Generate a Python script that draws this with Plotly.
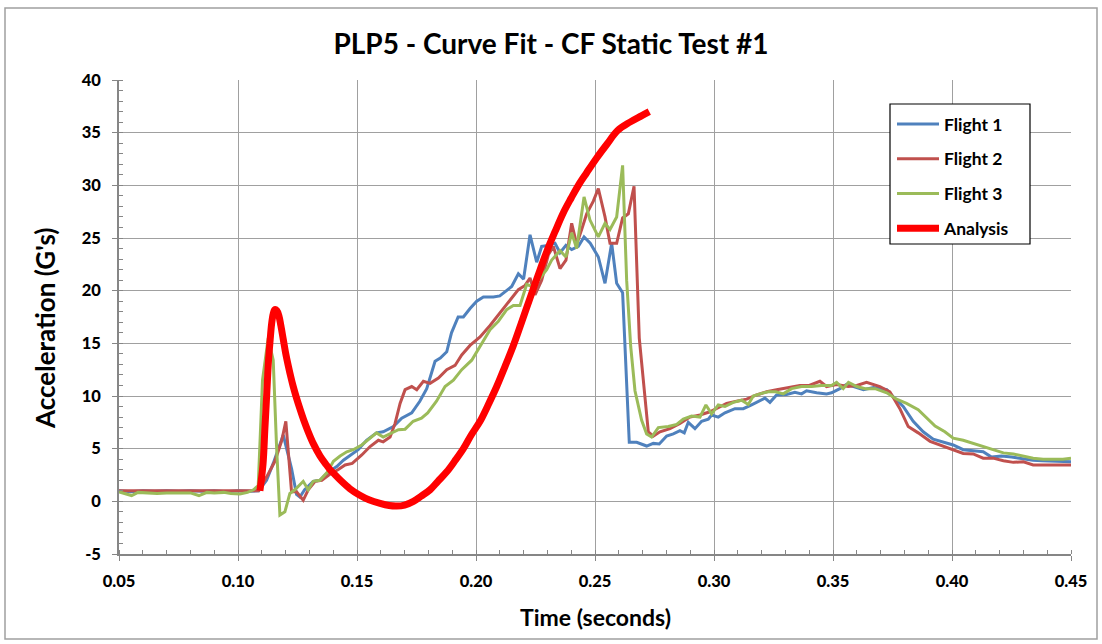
import plotly.graph_objects as go

# ---------------- data ----------------
t_flight1 = [0.050, 0.055, 0.060, 0.065, 0.070, 0.075, 0.080, 0.085, 0.090, 0.095, 0.100, 0.105, 0.1087,
             0.112, 0.1148, 0.119, 0.1225, 0.1246, 0.126, 0.128, 0.1316, 0.1344, 0.138, 0.1415, 0.1443, 0.147,
             0.1505, 0.154, 0.1582, 0.161, 0.1653, 0.1688, 0.173, 0.1764, 0.1793, 0.1828, 0.185, 0.1877, 0.1897,
             0.1925, 0.1947, 0.1975, 0.2003, 0.2031, 0.2073, 0.210, 0.2122, 0.215, 0.2178, 0.220, 0.2227, 0.2255,
             0.2276, 0.2304, 0.2332, 0.2353, 0.2378, 0.2402, 0.243, 0.2454, 0.248, 0.2514, 0.2542, 0.257, 0.2591,
             0.2616, 0.2644, 0.2675, 0.2717, 0.2745, 0.277, 0.2801, 0.2829, 0.2857, 0.2875, 0.2892, 0.292, 0.2948,
             0.2976, 0.299, 0.3018, 0.3046, 0.3088, 0.3123, 0.3158, 0.3193, 0.3214, 0.3235, 0.3263, 0.3305, 0.334,
             0.3368, 0.3389, 0.3431, 0.3473, 0.3494, 0.3529, 0.3557, 0.360, 0.3628, 0.367, 0.3726, 0.3746, 0.3795,
             0.3837, 0.3879, 0.3921, 0.3963, 0.4005, 0.4047, 0.4089, 0.4131, 0.4166, 0.4208, 0.425, 0.430, 0.434,
             0.438, 0.4425, 0.4466, 0.450]
g_flight1 = [1.0, 0.9, 1.0, 0.95, 1.0, 0.95, 1.0, 0.95, 1.0, 0.9, 1.0, 0.95, 1.0,
             2.0, 3.6, 6.3, 3.1, 0.65, 0.4, 1.1, 1.9, 2.0, 2.8, 3.3, 3.9, 4.3,
             4.9, 5.8, 6.5, 6.6, 7.1, 7.9, 8.4, 9.5, 10.7, 13.3, 13.6, 14.2, 16.0,
             17.5, 17.5, 18.3, 19.0, 19.4, 19.4, 19.5, 19.9, 20.4, 21.6, 21.1, 25.3, 22.7,
             24.2, 24.3, 24.5, 23.6, 24.3, 23.9, 24.2, 25.1, 24.5, 23.2, 20.7, 24.5, 20.7,
             19.8, 5.6, 5.6, 5.25, 5.5, 5.45, 6.2, 6.4, 6.7, 6.5, 7.5, 6.9, 7.6,
             7.8, 8.2, 8.0, 8.4, 8.8, 8.8, 9.15, 9.6, 9.8, 9.4, 10.1, 10.15, 10.35,
             10.2, 10.5, 10.3, 10.2, 10.3, 10.7, 11.1, 10.8, 10.6, 10.8, 10.6, 10.1, 9.0,
             7.6, 6.6, 5.9, 5.6, 5.35, 4.9, 4.8, 4.7, 4.2, 4.3, 4.2, 4.0, 3.9,
             3.85, 3.8, 3.75, 3.75]

t_flight2 = [0.050, 0.055, 0.060, 0.065, 0.070, 0.075, 0.080, 0.085, 0.090, 0.095, 0.100, 0.105, 0.1086,
             0.112, 0.1155, 0.1184, 0.1201, 0.1225, 0.1246, 0.1274, 0.1295, 0.1324, 0.1352, 0.1387, 0.142, 0.145,
             0.148, 0.152, 0.1555, 0.159, 0.161, 0.1639, 0.166, 0.1681, 0.1702, 0.173, 0.1751, 0.1779, 0.1807,
             0.1842, 0.1877, 0.1912, 0.194, 0.1975, 0.2017, 0.2059, 0.2101, 0.2143, 0.2178, 0.2206, 0.2227, 0.2248,
             0.2276, 0.2304, 0.2325, 0.2353, 0.2378, 0.2402, 0.2423, 0.2444, 0.2465, 0.2493, 0.2514, 0.2542, 0.2563,
             0.2591, 0.2616, 0.264, 0.2664, 0.2686, 0.2703, 0.2724, 0.2745, 0.2773, 0.2815, 0.2857, 0.2899, 0.2941,
             0.2983, 0.3018, 0.3053, 0.3095, 0.3137, 0.3179, 0.3221, 0.3263, 0.3305, 0.3361, 0.340, 0.3445, 0.3473,
             0.3515, 0.3564, 0.360, 0.3641, 0.3697, 0.3739, 0.3781, 0.3816, 0.3858, 0.3908, 0.395, 0.4005, 0.4047,
             0.4089, 0.4131, 0.4173, 0.4216, 0.4258, 0.430, 0.4341, 0.440, 0.450]
g_flight2 = [1.0, 1.0, 1.05, 1.0, 1.0, 1.05, 1.0, 1.05, 1.0, 1.05, 1.0, 1.05, 1.0,
             2.3, 3.8, 5.8, 7.6, 0.9, 0.9, 0.1, 1.1, 1.9, 2.0, 2.6, 3.0, 3.45,
             3.6, 4.4, 5.2, 5.8, 5.65, 6.1, 7.4, 9.3, 10.6, 10.9, 10.6, 11.4, 11.2,
             11.7, 12.5, 12.9, 13.9, 14.8, 15.6, 16.7, 17.9, 19.0, 20.1, 20.5, 21.2, 19.6,
             21.0, 23.4, 24.2, 22.1, 22.9, 26.4, 24.4, 25.8, 27.3, 28.5, 29.7, 27.0, 24.5,
             24.5, 26.9, 27.3, 29.9, 15.5, 11.2, 6.6, 6.2, 6.6, 6.9, 7.4, 8.0, 8.2,
             8.5, 8.9, 9.3, 9.5, 9.7, 10.1, 10.4, 10.6, 10.8, 11.0, 11.0, 11.4, 10.9,
             11.1, 10.9, 11.0, 11.3, 10.9, 10.4, 8.8, 7.1, 6.5, 5.7, 5.35, 4.9, 4.55,
             4.5, 4.1, 4.1, 3.85, 3.7, 3.75, 3.45, 3.45, 3.45]

t_flight3 = [0.050, 0.0553, 0.058, 0.062, 0.066, 0.070, 0.075, 0.080, 0.0836, 0.087, 0.090, 0.094, 0.097,
             0.1008, 0.104, 0.1065, 0.1085, 0.1103, 0.1127, 0.1148, 0.1162, 0.1176, 0.1197, 0.1218, 0.1239, 0.1274,
             0.1295, 0.1316, 0.1344, 0.1373, 0.1401, 0.1429, 0.1457, 0.1484, 0.152, 0.1555, 0.1582, 0.161, 0.1646,
             0.1674, 0.1702, 0.1736, 0.1771, 0.1797, 0.1834, 0.187, 0.1905, 0.194, 0.1982, 0.2017, 0.2059, 0.2094,
             0.2129, 0.2157, 0.2185, 0.2213, 0.2234, 0.2262, 0.2297, 0.2318, 0.2353, 0.2378, 0.2402, 0.2423, 0.2454,
             0.2479, 0.2514, 0.2542, 0.2563, 0.2591, 0.2616, 0.2633, 0.265, 0.2668, 0.2696, 0.2717, 0.2738, 0.2766,
             0.2808, 0.2843, 0.2871, 0.2906, 0.2941, 0.2966, 0.299, 0.3018, 0.3046, 0.3081, 0.3116, 0.3144, 0.3165,
             0.320, 0.3228, 0.326, 0.3291, 0.3326, 0.3368, 0.341, 0.3452, 0.3494, 0.3515, 0.3543, 0.3565, 0.360,
             0.3635, 0.3677, 0.3726, 0.3767, 0.3809, 0.3858, 0.3893, 0.3929, 0.397, 0.4005, 0.4047, 0.4089, 0.4131,
             0.4173, 0.4216, 0.4258, 0.430, 0.4341, 0.4383, 0.4425, 0.4466, 0.450]
g_flight3 = [0.9, 0.55, 0.85, 0.8, 0.75, 0.8, 0.8, 0.8, 0.55, 0.85, 0.8, 0.85, 0.75,
             0.7, 0.85, 1.1, 1.5, 11.5, 15.5, 13.4, 5.2, -1.3, -1.0, 0.75, 1.1, 1.9,
             1.1, 1.9, 2.0, 2.7, 3.8, 4.3, 4.7, 4.9, 5.35, 6.0, 6.5, 6.1, 6.5,
             6.8, 6.85, 7.6, 7.9, 8.4, 9.5, 10.9, 11.5, 12.5, 13.4, 14.7, 16.3, 17.1,
             18.2, 18.6, 18.6, 20.6, 20.4, 21.0, 22.0, 22.9, 23.8, 23.2, 25.5, 24.0, 28.9,
             26.7, 25.1, 26.4, 25.8, 27.0, 31.9, 21.0, 14.7, 10.5, 7.7, 6.4, 6.1, 7.0,
             7.1, 7.3, 7.8, 8.1, 8.0, 9.15, 8.3, 9.15, 9.0, 9.4, 9.6, 9.2, 10.0,
             10.25, 10.4, 10.4, 10.2, 10.7, 10.9, 10.9, 11.0, 11.0, 11.3, 10.7, 11.3, 10.9,
             10.7, 10.7, 10.3, 9.7, 9.3, 8.7, 7.9, 7.15, 6.6, 6.0, 5.8, 5.5, 5.2,
             4.9, 4.6, 4.5, 4.3, 4.1, 4.0, 4.0, 4.0, 4.1]

t_analysis = [0.1092, 0.1105, 0.1113, 0.1121, 0.1128, 0.1135, 0.1141, 0.1148, 0.1155, 0.1163, 0.1172, 0.118,
              0.119, 0.120, 0.1211, 0.1222, 0.1232, 0.1246, 0.126, 0.1278, 0.1295, 0.1316, 0.1345, 0.137,
              0.1387, 0.140, 0.1435, 0.147, 0.151, 0.155, 0.1597, 0.1635, 0.1667, 0.170, 0.1737, 0.177,
              0.1807, 0.184, 0.1877, 0.191, 0.1947, 0.198, 0.2017, 0.205, 0.2087, 0.212, 0.2157, 0.219,
              0.2227, 0.226, 0.2297, 0.2332, 0.2367, 0.240, 0.243, 0.2465, 0.2507, 0.255, 0.2595, 0.2647,
              0.2695, 0.2728]
g_analysis = [1.0, 3.5, 6.9, 10.3, 13.3, 15.3, 16.8, 17.8, 18.2, 18.1, 17.6, 16.7,
              15.4, 14.1, 12.9, 11.8, 10.9, 9.8, 8.8, 7.6, 6.6, 5.5, 4.3, 3.5,
              3.0, 2.7, 1.9, 1.2, 0.6, 0.15, -0.2, -0.4, -0.45, -0.35, 0.0, 0.5,
              1.1, 1.9, 2.8, 3.8, 5.0, 6.3, 7.6, 9.1, 10.9, 12.7, 14.8, 16.9,
              19.3, 21.4, 23.7, 25.6, 27.4, 28.8, 30.0, 31.2, 32.6, 33.9, 35.2, 36.0,
              36.6, 37.0]

series_names = ["Flight 1", "Flight 2", "Flight 3", "Analysis"]
x_ticks = [0.05, 0.10, 0.15, 0.20, 0.25, 0.30, 0.35, 0.40, 0.45]
x_labels = ["0.05", "0.10", "0.15", "0.20", "0.25", "0.30", "0.35", "0.40", "0.45"]
y_ticks = [-5, 0, 5, 10, 15, 20, 25, 30, 35, 40]
y_labels = ["-5", "0", "5", "10", "15", "20", "25", "30", "35", "40"]

# ---------------- figure ----------------
FONT = "Lato"
fig = go.Figure()
styles = [("#4F81BD", 3, "linear"), ("#C0504D", 3, "linear"), ("#9BBB59", 3, "linear"),
          ("#FF0000", 7, "spline")]
data = [(t_flight1, g_flight1), (t_flight2, g_flight2), (t_flight3, g_flight3), (t_analysis, g_analysis)]
for name, (tx, gy), (col, w, shp) in zip(series_names, data, styles):
    fig.add_trace(go.Scatter(x=tx, y=gy, mode="lines", name=name, legendgroup=name,
                             line=dict(color=col, width=w, shape=shp)))

W, H = 1102, 644
L, R, T, B = 119, 1071, 80, 554

def px(xp):
    return (xp - L) / (R - L)

def py(yp):
    return (B - yp) / (B - T)

grid = "#A0A0A0"
axis_col = "#868686"
tickfont = dict(size=16.5, family=FONT, color="black", weight=900)
fig.update_layout(
    width=W, height=H,
    margin=dict(l=L, r=W - R, t=T, b=H - B),
    paper_bgcolor="white", plot_bgcolor="white",
    font=dict(family=FONT, color="black"),
    title=dict(text="PLP5 - Curve Fit - CF Static Test #1", x=0.5, xanchor="center",
               y=1 - 44 / H, yanchor="middle",
               font=dict(size=28, family=FONT, color="black", weight="bold")),
    showlegend=True,
    legend=dict(x=px(892), y=py(106), xanchor="left", yanchor="top",
                bgcolor="rgba(0,0,0,0)", borderwidth=0,
                font=dict(size=17.5, family=FONT, color="black", weight="bold"),
                tracegroupgap=9, traceorder="grouped", itemwidth=42),
    xaxis=dict(range=[0.05, 0.45], tickvals=x_ticks, ticktext=x_labels,
               showgrid=True, gridcolor=grid, gridwidth=1.2, zeroline=False,
               showline=True, linecolor=axis_col, linewidth=1.5,
               ticks="outside", ticklen=5, tickcolor=axis_col, ticklabelstandoff=6,
               minor=dict(dtick=0.01, ticks="inside", ticklen=4, tickcolor=axis_col, showgrid=False),
               tickfont=tickfont),
    yaxis=dict(range=[-5, 40], tickvals=y_ticks, ticktext=y_labels,
               showgrid=True, gridcolor=grid, gridwidth=1.2, zeroline=False,
               showline=True, linecolor=axis_col, linewidth=1.5,
               ticks="outside", ticklen=5, tickcolor=axis_col, ticklabelstandoff=8,
               minor=dict(dtick=1, ticks="inside", ticklen=4, tickcolor=axis_col, showgrid=False),
               tickfont=tickfont),
)

fig.add_annotation(text="Time (seconds)", xref="paper", yref="paper", x=px(595), y=py(617),
                   xanchor="center", yanchor="middle", showarrow=False,
                   font=dict(size=23, family=FONT, color="black", weight="bold"))
fig.add_annotation(text="Acceleration (G's)", xref="paper", yref="paper", x=px(45), y=py(329),
                   xanchor="center", yanchor="middle", showarrow=False, textangle=-90,
                   font=dict(size=26, family=FONT, color="black", weight="bold"))

# legend frame (white box over the grid, black border)
fig.add_shape(type="rect", xref="paper", yref="paper", x0=px(890), x1=px(1030), y0=py(244), y1=py(104),
              line=dict(color="black", width=1.2), fillcolor="white", layer="above")

# outer chart-area border
fig.add_shape(type="rect", xref="paper", yref="paper", x0=px(5), x1=px(1097), y0=py(639), y1=py(8),
              line=dict(color="#A0A0A0", width=1.5), fillcolor="rgba(0,0,0,0)", layer="below")

fig.write_html("out.html")
